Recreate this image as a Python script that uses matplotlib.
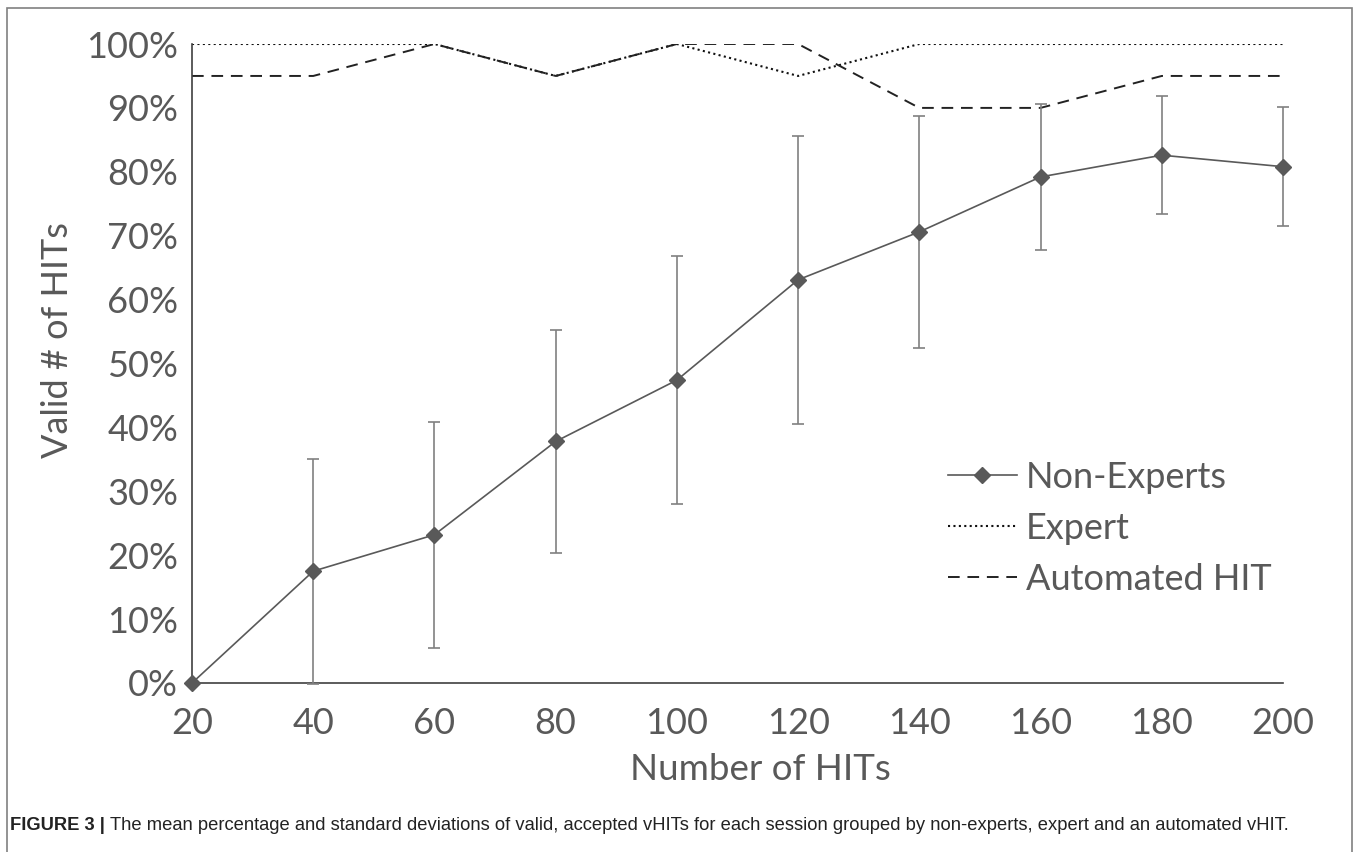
import matplotlib
matplotlib.use("Agg")
import matplotlib.pyplot as plt
from matplotlib.patches import Rectangle
from matplotlib.lines import Line2D

# number of HITs per session
n_hits = [20, 40, 60, 80, 100, 120, 140, 160, 180, 200]

# non-experts: mean % valid and std
non_expert_mean = [0.0, 17.5, 23.2, 37.8, 47.4, 63.1, 70.6, 79.2, 82.6, 80.8]
non_expert_std  = [0.0, 17.6, 17.7, 17.4, 19.4, 22.5, 18.1, 11.4, 9.2, 9.3]

# expert and automated vHIT
expert    = [100, 100, 100, 95, 100, 95, 100, 100, 100, 100]
automated = [95, 95, 100, 95, 100, 100, 90, 90, 95, 95]

y_ticks = [0, 10, 20, 30, 40, 50, 60, 70, 80, 90, 100]

caption_bold = "FIGURE 3 |"
caption_text = ("The mean percentage and standard deviations of valid, accepted vHITs "
                "for each session grouped by non-experts, expert and an automated vHIT.")

# ---------------------------------------------------------------------------

txt = "#595959"
plt.rcParams['font.family'] = ['Lato', 'DejaVu Sans']

fig = plt.figure(figsize=(13.55, 8.52), dpi=100)
ax = fig.add_axes([192/1355, 1 - 683/852, (1283-192)/1355, (683-44)/852])

dot_style = dict(color="#111111", lw=1.5, linestyle=(0, (1, 1.6)))
dash_style = dict(color="#222222", lw=1.4, linestyle=(0, (6, 4)))

ax.errorbar(n_hits, non_expert_mean, yerr=non_expert_std, color=txt, ecolor="#808080",
            elinewidth=1.2, capsize=4.3, capthick=1.2, lw=1.2,
            marker='D', markersize=8, mfc=txt, mec=txt, zorder=3, clip_on=False)
ax.plot(n_hits, expert, **dot_style)
ax.plot(n_hits, automated, **dash_style)

ax.set_xlim(20, 200)
ax.set_ylim(0, 100)
ax.set_xticks(n_hits)
ax.set_yticks(y_ticks)
ax.set_yticklabels([f"{v}%" for v in y_ticks])
ax.tick_params(length=0, labelsize=26, labelcolor=txt)
ax.tick_params(axis='y', pad=10)
ax.tick_params(axis='x', pad=17)

for s in ['top', 'right']:
    ax.spines[s].set_visible(False)
for s in ['left', 'bottom']:
    ax.spines[s].set_color("#404040")
    ax.spines[s].set_linewidth(1.2)

ax.set_xlabel("Number of HITs", fontsize=26.5, color=txt, va='center')
ax.xaxis.set_label_coords((760-192)/1091, (683-770)/639)
ax.set_ylabel("Valid # of HITs", fontsize=26, color=txt, va='center')
ax.yaxis.set_label_coords((58-192)/1091, (683-340)/639)

# legend, in the reference order
handles = [
    Line2D([], [], color=txt, lw=1.2, marker='D', markersize=8, mfc=txt, mec=txt),
    Line2D([], [], **dot_style),
    Line2D([], [], **dash_style),
]
labels = ["Non-Experts", "Expert", "Automated HIT"]
leg = ax.legend(handles, labels, loc='upper left',
                bbox_to_anchor=((948-192)/1091, (683-461)/639),
                frameon=False, fontsize=26, handlelength=1.9, handletextpad=0.25,
                labelspacing=0.5, borderpad=0, borderaxespad=0)
for t in leg.get_texts():
    t.set_color(txt)

# outer frame around the figure
fig.patches.append(Rectangle((7/1355, -0.1), (1352-7)/1355, 1.1 - 8/852,
                             transform=fig.transFigure, fill=False,
                             edgecolor="#808080", lw=1.2))

cap_y = 1 - 825/852
t_bold = fig.text(10/1355, cap_y, caption_bold, fontsize=13.2, fontweight='bold',
                  family='Liberation Sans', va='center', ha='left', color="#222222")
r = fig.canvas.get_renderer()
bb = t_bold.get_window_extent(renderer=r)
fig.text((bb.x1 + 5)/1355, cap_y, caption_text, fontsize=13.2,
         family='Liberation Sans', va='center', ha='left', color="#222222")

plt.savefig("out.png", dpi=100)
